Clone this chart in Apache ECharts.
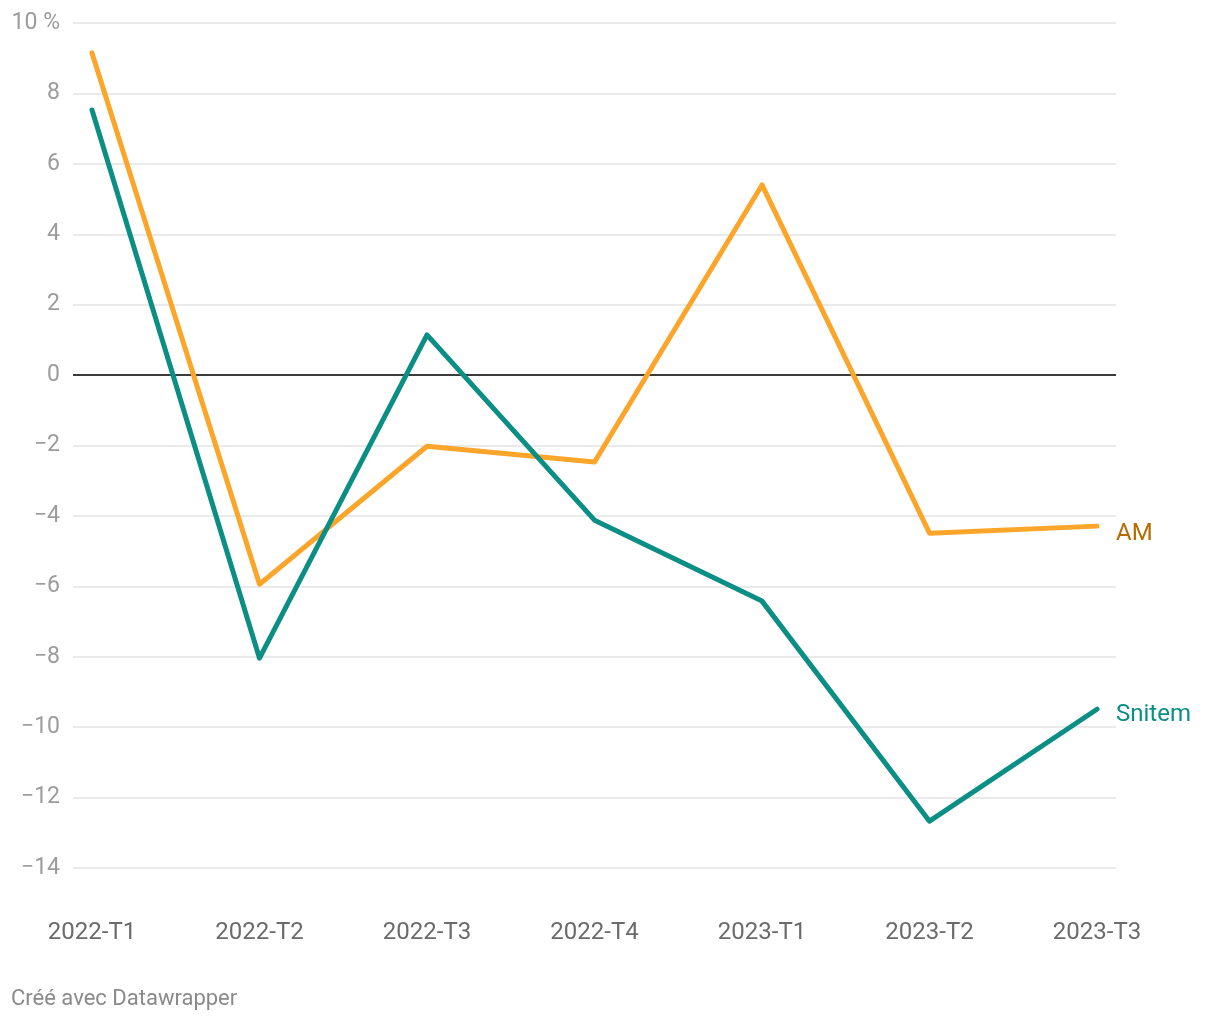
<!DOCTYPE html>
<html><head><meta charset="utf-8">
<script src="https://cdn.jsdelivr.net/npm/echarts@6/dist/echarts.min.js"></script>
<style>html,body{margin:0;padding:0;background:#fff}#c{width:1220px;height:1020px}</style>
</head><body><div id="c"></div>
<script>
const categories = ['2022-T1','2022-T2','2022-T3','2022-T4','2023-T1','2023-T2','2023-T3'];
const amValues = [9.15, -5.94, -2.02, -2.47, 5.4, -4.49, -4.29];
const snitemValues = [7.53, -8.04, 1.14, -4.12, -6.42, -12.67, -9.49];
const yMin = -14, yMax = 10, yStep = 2;

const chart = echarts.init(document.getElementById('c'), null, {renderer:'canvas'});
const font = 'Roboto, sans-serif';
chart.setOption({
  animation: false,
  grid: [
    {left: 73, right: 104, top: 23, bottom: 152},
    {left: 92, right: 123, top: 23, bottom: 152}
  ],
  xAxis: [
    {gridIndex: 0, type: 'value', min: 0, max: 1, show: false},
    {gridIndex: 1, type: 'category', data: categories, boundaryGap: false,
     axisLine: {show: false}, axisTick: {show: false}, splitLine: {show: false},
     axisLabel: {color: '#6b6b6b', fontFamily: font, fontSize: 24, margin: 53}}
  ],
  yAxis: [
    {gridIndex: 0, type: 'value', min: yMin, max: yMax, interval: yStep,
     axisLine: {show: false}, axisTick: {show: false},
     splitLine: {lineStyle: {color: '#e3e3e3', width: 1.5}},
     axisLabel: {color: '#9c9c9c', fontFamily: font, fontSize: 23, margin: 13,
       formatter: v => (v === yMax ? v + ' %' : (v < 0 ? '\u2212' + Math.abs(v) : String(v)))}},
    {gridIndex: 1, type: 'value', min: yMin, max: yMax, interval: yStep, show: false}
  ],
  series: [
    {type: 'line', xAxisIndex: 0, yAxisIndex: 0, data: [[0,0],[1,0]], symbol: 'none', silent: true,
     lineStyle: {color: '#000', width: 1.5}, z: 1},
    {name: 'AM', type: 'line', xAxisIndex: 1, yAxisIndex: 1, data: amValues, symbol: 'none',
     lineStyle: {color: '#fba52a', width: 5, cap: 'round', join: 'round'}, z: 3,
     endLabel: {show: true, formatter: '{a}', color: '#b86b00', fontFamily: font, fontSize: 24, distance: 19, offset: [0, 8]}},
    {name: 'Snitem', type: 'line', xAxisIndex: 1, yAxisIndex: 1, data: snitemValues, symbol: 'none',
     lineStyle: {color: '#0b8f85', width: 5, cap: 'round', join: 'round'}, z: 4,
     endLabel: {show: true, formatter: '{a}', color: '#0b8f85', fontFamily: font, fontSize: 24, distance: 19, offset: [0, 6]}}
  ],
  graphic: [
    {type: 'text', left: 11, top: 988, style: {text: 'Créé avec Datawrapper', fill: '#8a8a8a', font: '22px Roboto, sans-serif'}}
  ]
});
</script></body></html>
